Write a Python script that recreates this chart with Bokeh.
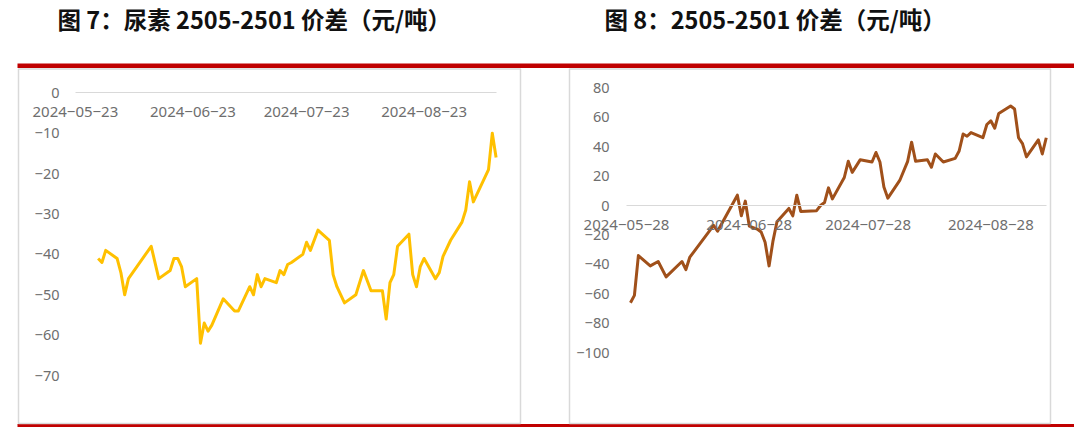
import datetime as dt
import pandas as pd
from bokeh.plotting import figure
from bokeh.models import (Range1d, FixedTicker, CustomJSTickFormatter, BoxAnnotation, Label,
                          DatetimeAxis, LinearAxis)
from bokeh.embed import file_html
from bokeh.resources import INLINE

# ---------------- data ----------------
left_title = "图 7：尿素 2505-2501 价差（元/吨）"
right_title = "图 8：2505-2501 价差（元/吨）"

left_x_tick_labels = ["2024-05-23", "2024-06-23", "2024-07-23", "2024-08-23"]
right_x_tick_labels = ["2024-05-28", "2024-06-28", "2024-07-28", "2024-08-28"]
left_y_ticks = [0, -10, -20, -30, -40, -50, -60, -70]
right_y_ticks = [80, 60, 40, 20, 0, -20, -40, -60, -80, -100]

left_dates = [
    "2024-05-29", "2024-05-30", "2024-05-31", "2024-06-03", "2024-06-04", "2024-06-05",
    "2024-06-06", "2024-06-12", "2024-06-14", "2024-06-17", "2024-06-18", "2024-06-19",
    "2024-06-20", "2024-06-21", "2024-06-24", "2024-06-25", "2024-06-26", "2024-06-27",
    "2024-06-28", "2024-07-01", "2024-07-04", "2024-07-05", "2024-07-08", "2024-07-09",
    "2024-07-10", "2024-07-11", "2024-07-12", "2024-07-15", "2024-07-16", "2024-07-17",
    "2024-07-18", "2024-07-19", "2024-07-22", "2024-07-23", "2024-07-24", "2024-07-26",
    "2024-07-29", "2024-07-30", "2024-07-31", "2024-08-02", "2024-08-05", "2024-08-07",
    "2024-08-09", "2024-08-12", "2024-08-13", "2024-08-14", "2024-08-15", "2024-08-16",
    "2024-08-19", "2024-08-20", "2024-08-21", "2024-08-22", "2024-08-23", "2024-08-26",
    "2024-08-27", "2024-08-28", "2024-08-30", "2024-09-02", "2024-09-03", "2024-09-04",
    "2024-09-05", "2024-09-09", "2024-09-10", "2024-09-11",
]
left_values = [
    -41, -42, -39, -41, -44.5, -50,
    -46, -38, -46, -44, -41, -41,
    -43, -48, -46, -62, -57, -59,
    -57.5, -51, -54, -54, -48, -50,
    -45, -48, -46, -47, -44, -45,
    -42.5, -42, -40, -37, -39, -34,
    -36.5, -45, -48, -52, -50, -44,
    -49, -49, -56, -47, -45, -38,
    -35, -45, -48, -43, -41, -46,
    -44.5, -40.5, -36.5, -32, -29, -22,
    -27, -19, -10, -16,
]

right_dates = [
    "2024-05-29", "2024-05-30", "2024-05-31", "2024-06-03", "2024-06-05", "2024-06-07",
    "2024-06-11", "2024-06-12", "2024-06-13", "2024-06-14", "2024-06-19", "2024-06-20",
    "2024-06-25", "2024-06-26", "2024-06-27", "2024-06-28", "2024-06-30", "2024-07-01",
    "2024-07-02", "2024-07-03", "2024-07-04", "2024-07-05", "2024-07-08", "2024-07-09",
    "2024-07-10", "2024-07-11", "2024-07-15", "2024-07-16", "2024-07-17", "2024-07-18",
    "2024-07-19", "2024-07-22", "2024-07-23", "2024-07-24", "2024-07-26", "2024-07-29",
    "2024-07-30", "2024-07-31", "2024-08-01", "2024-08-02", "2024-08-05", "2024-08-07",
    "2024-08-08", "2024-08-09", "2024-08-12", "2024-08-13", "2024-08-14", "2024-08-16",
    "2024-08-19", "2024-08-20", "2024-08-21", "2024-08-22", "2024-08-23", "2024-08-26",
    "2024-08-27", "2024-08-28", "2024-08-29", "2024-08-30", "2024-09-02", "2024-09-03",
    "2024-09-04", "2024-09-05", "2024-09-06", "2024-09-09", "2024-09-10", "2024-09-11",
]
right_values = [
    -66, -61, -34, -41, -38, -48.5,
    -38, -43.5, -35, -31.5, -13.5, -17.5,
    7, -7, 3, -14, -16, -18,
    -25, -41, -24, -11, -2, -7,
    7, -4, -3.5, 0, 2, 12,
    4.5, 19, 30, 22.5, 31, 29.5,
    36, 29.5, 12.5, 5, 17, 30,
    43, 30, 31, 26, 35, 29.5,
    32, 37, 48.5, 47, 49.5, 46,
    55, 57.5, 52.5, 62.5, 67.5, 65.5,
    46, 42, 33, 44.5, 35, 46,
]

# ---------------- layout / style ----------------
CANVAS_W, CANVAS_H = 1074, 427
DAY_MS = 86400000.0
RED = "#C00000"
BOX_GREY = "#D9D9D9"
LABEL_GREY = "#6E6E6E"
TICK_FONT = "Noto Sans"
TITLE_FONT = "Noto Sans CJK SC"


def ms(s):
    d = dt.datetime.strptime(s, "%Y-%m-%d")
    return (d - dt.datetime(1970, 1, 1)).total_seconds() * 1000.0


class Mapping:
    """Linear map between canvas pixels and one panel's data space."""
    def __init__(self, first_tick, origin_px, px_per_day, zero_px, px_per_unit):
        self.t0 = ms(first_tick)
        self.origin_px = origin_px
        self.px_per_day = px_per_day
        self.zero_px = zero_px
        self.px_per_unit = px_per_unit

    def xd(self, px):
        return self.t0 + (px - self.origin_px) / self.px_per_day * DAY_MS

    def yv(self, py):
        return (self.zero_px - py) / self.px_per_unit


L = Mapping(left_x_tick_labels[0], 74.9, 3.79, 92.3, 4.04)
R = Mapping(right_x_tick_labels[0], 626.0, 3.96, 205.0, 1.473)

DATE_FMT = CustomJSTickFormatter(code="""
const d = new Date(tick);
const p = (n) => (n < 10 ? "0" : "") + n;
return d.getUTCFullYear() + "\u2212" + p(d.getUTCMonth() + 1) + "\u2212" + p(d.getUTCDate());
""")
NUM_FMT = CustomJSTickFormatter(code="""
return tick < 0 ? "\u2212" + Math.abs(tick) : String(tick);
""")

p = figure(width=CANVAS_W, height=CANVAS_H, x_axis_type="datetime",
           x_range=Range1d(L.xd(0), L.xd(CANVAS_W)),
           y_range=Range1d(L.yv(CANVAS_H), L.yv(0)),
           output_backend="svg", toolbar_location=None,
           min_border=0, min_border_left=0, min_border_right=0,
           min_border_top=0, min_border_bottom=0)
p.extra_x_ranges = {"rx": Range1d(R.xd(0), R.xd(CANVAS_W))}
p.extra_y_ranges = {"ry": Range1d(R.yv(CANVAS_H), R.yv(0))}
p.background_fill_color = "white"
p.border_fill_color = "white"
p.outline_line_color = None
p.xgrid.visible = False
p.ygrid.visible = False

# decorations (placed with the left panel's mapping, which spans the whole canvas)
p.add_layout(BoxAnnotation(left=L.xd(17), right=L.xd(CANVAS_W + 5), top=L.yv(63), bottom=L.yv(67.5),
                           fill_color=RED, fill_alpha=1, line_color=None))
p.add_layout(BoxAnnotation(left=L.xd(17), right=L.xd(CANVAS_W + 5), top=L.yv(423.5), bottom=L.yv(427.5),
                           fill_color=RED, fill_alpha=1, line_color=None))
for bl, br in ((18, 520), (569, 1050)):
    p.add_layout(BoxAnnotation(left=L.xd(bl), right=L.xd(br), top=L.yv(68.5), bottom=L.yv(423),
                               fill_alpha=0, line_color=BOX_GREY, line_width=1.5, line_alpha=1))

# series
p.line(x=pd.to_datetime(left_dates), y=left_values, line_color="#FFC000", line_width=3,
       line_join="round")
p.line(x=pd.to_datetime(right_dates), y=right_values, line_color="#A0501A", line_width=3,
       line_join="round", x_range_name="rx", y_range_name="ry")


def style_x(ax, labels, last_date):
    ax.fixed_location = 0
    ax.bounds = (ms(labels[0]), ms(last_date))
    ax.ticker = FixedTicker(ticks=[ms(s) for s in labels])
    ax.formatter = DATE_FMT
    ax.axis_line_color = BOX_GREY
    ax.axis_line_width = 1
    ax.major_tick_line_color = None
    ax.minor_tick_line_color = None
    ax.major_tick_out = 0
    ax.major_tick_in = 0
    ax.major_label_standoff = 14
    ax.major_label_text_font = TICK_FONT
    ax.major_label_text_font_size = "15px"
    ax.major_label_text_color = LABEL_GREY


def style_y(ax, ticks, loc):
    ax.fixed_location = loc
    ax.ticker = FixedTicker(ticks=ticks)
    ax.formatter = NUM_FMT
    ax.axis_line_color = None
    ax.major_tick_line_color = None
    ax.minor_tick_line_color = None
    ax.major_tick_out = 0
    ax.major_tick_in = 0
    ax.major_label_standoff = 10
    ax.major_label_text_font = TICK_FONT
    ax.major_label_text_font_size = "14.5px"
    ax.major_label_text_color = LABEL_GREY


style_x(p.xaxis[0], left_x_tick_labels, left_dates[-1])
style_y(p.yaxis[0], left_y_ticks, L.xd(69))

rxa = DatetimeAxis(x_range_name="rx", y_range_name="ry")
style_x(rxa, right_x_tick_labels, right_dates[-1])
p.add_layout(rxa, "below")
rya = LinearAxis(x_range_name="rx", y_range_name="ry")
style_y(rya, right_y_ticks, R.xd(619))
p.add_layout(rya, "left")

for title, tx in ((left_title, 57), (right_title, 604)):
    p.add_layout(Label(x=L.xd(tx), y=L.yv(18), text=title, text_font=TITLE_FONT,
                       text_font_size="23.5px", text_font_style="bold", text_color="#111111",
                       text_baseline="middle", text_align="left"))

with open("out.html", "w", encoding="utf-8") as f:
    f.write(file_html(p, INLINE))
